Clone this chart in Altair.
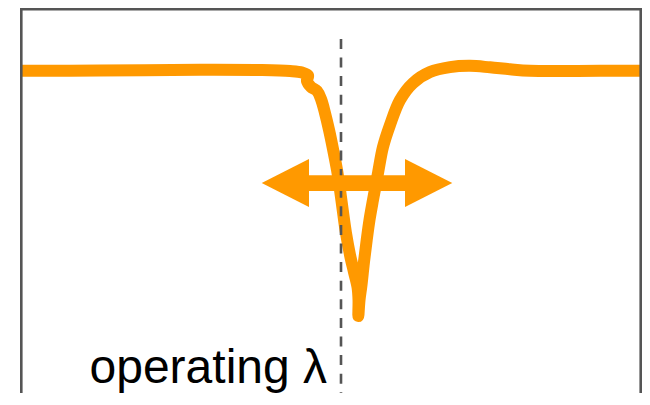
import altair as alt
import pandas as pd

# Transmission spectrum (detuning in arbitrary units, normalised transmission)
detuning = [0.0, 12.72, 28.82, 38.49, 43.32, 45.25, 46.22, 46.05, 46.70, 47.66,
            48.31, 48.95, 49.60, 50.24, 50.89, 51.37, 51.85, 52.33, 52.98, 53.62,
            54.19, 54.35, 54.32, 54.51, 54.83, 55.23, 55.67, 56.12, 56.68, 57.49,
            58.29, 59.42, 61.03, 63.12, 65.86, 69.08, 72.30, 75.52, 78.74, 81.96,
            93.24, 100.0]
transmission = [1.000, 1.001, 1.004, 1.003, 0.999, 0.993, 0.981, 0.958, 0.934, 0.918,
                0.885, 0.828, 0.759, 0.681, 0.595, 0.514, 0.424, 0.339, 0.249, 0.179,
                0.118, 0.065, 0.000, 0.065, 0.126, 0.220, 0.310, 0.392, 0.473, 0.583,
                0.689, 0.779, 0.881, 0.950, 0.995, 1.015, 1.020, 1.014, 1.006, 1.000,
                1.000, 1.000]

operating_lambda = [51.53]
marker_top = [1.130]
arrow_start = [38.76]
arrow_end = [69.45]
arrow_level = [0.542]
label_text = ["operating λ"]
label_x = [49.28]
label_y = [-0.273]

X_DOMAIN = [0, 100]
Y_DOMAIN = [-0.314, 1.256]

ORANGE = "#FF9900"
GRAY = "#555555"

W, H = 621, 385

spec_df = pd.DataFrame({"x": detuning, "y": transmission, "i": list(range(len(detuning)))})
op_df = pd.DataFrame({"x": operating_lambda, "y": marker_top, "y2": [Y_DOMAIN[0]]})
arrow_df = pd.DataFrame({"x": arrow_start, "x2": arrow_end, "y": arrow_level})
label_df = pd.DataFrame({"x": label_x, "y": label_y, "t": label_text})

xs = alt.Scale(domain=X_DOMAIN, nice=False, zero=False)
ys = alt.Scale(domain=Y_DOMAIN, nice=False, zero=False)

curve = alt.Chart(spec_df).mark_line(
    color=ORANGE, strokeWidth=12, strokeJoin="round", strokeCap="butt", clip=True,
    interpolate="catmull-rom"
).encode(
    x=alt.X("x:Q", scale=xs, axis=None),
    y=alt.Y("y:Q", scale=ys, axis=None),
    order="i:Q",
)

dashed = alt.Chart(op_df).mark_rule(
    color=GRAY, strokeWidth=2.6, strokeDash=[10, 8.6]
).encode(
    x=alt.X("x:Q", scale=xs),
    y=alt.Y("y:Q", scale=ys),
    y2="y2:Q",
)

shaft = alt.Chart(arrow_df).mark_rule(
    color=ORANGE, strokeWidth=15.7, strokeCap="butt", xOffset=40, x2Offset=-40
).encode(
    x=alt.X("x:Q", scale=xs),
    x2="x2:Q",
    y=alt.Y("y:Q", scale=ys),
)

head_left = alt.Chart(arrow_df).mark_point(
    shape="M0,0L1.97,-1L1.97,1Z", size=2304, filled=True, fill=ORANGE,
    opacity=1, strokeWidth=0
).encode(
    x=alt.X("x:Q", scale=xs),
    y=alt.Y("y:Q", scale=ys),
)

head_right = alt.Chart(arrow_df).mark_point(
    shape="M0,0L-1.97,-1L-1.97,1Z", size=2304, filled=True, fill=ORANGE,
    opacity=1, strokeWidth=0
).encode(
    x=alt.X("x2:Q", scale=xs),
    y=alt.Y("y:Q", scale=ys),
)

label = alt.Chart(label_df).mark_text(
    align="right", baseline="alphabetic", font="Liberation Sans",
    fontSize=48, color="black"
).encode(
    x=alt.X("x:Q", scale=xs),
    y=alt.Y("y:Q", scale=ys),
    text="t:N",
)

border_left = alt.Chart(op_df).mark_rule(color=GRAY, strokeWidth=2.6).encode(
    x=alt.value(0.3), y=alt.value(0), y2=alt.value(H)
)
border_right = alt.Chart(op_df).mark_rule(color=GRAY, strokeWidth=2.6).encode(
    x=alt.value(W - 1.3), y=alt.value(0), y2=alt.value(H)
)
border_top = alt.Chart(op_df).mark_rule(color=GRAY, strokeWidth=2.6).encode(
    x=alt.value(0), x2=alt.value(W), y=alt.value(1.3)
)

chart = alt.layer(
    curve, dashed, shaft, head_left, head_right, label,
    border_left, border_right, border_top
).properties(
    width=W, height=H,
    autosize=alt.AutoSizeParams(type="none"),
    padding={"left": 13, "top": 0, "right": 0, "bottom": 0},
).configure_view(stroke=None).configure(background="white")

chart.save("out.html", embed_options={"renderer": "svg", "actions": False})
